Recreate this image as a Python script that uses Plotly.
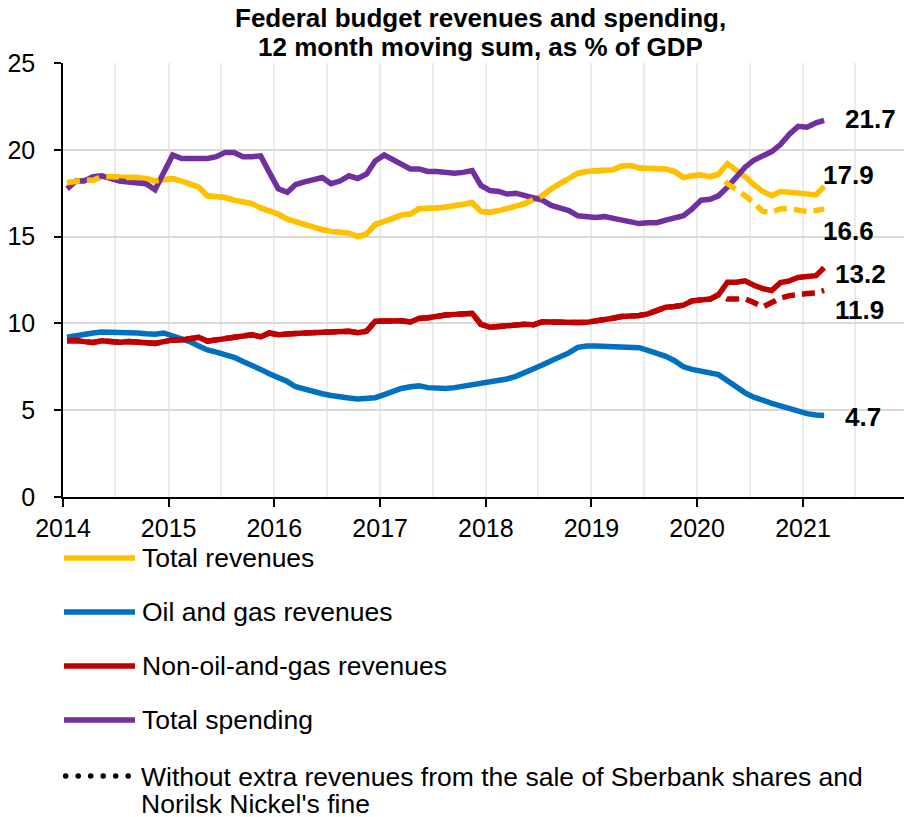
import pandas as pd
import plotly.graph_objects as go

# Monthly observations, Jan 2014 - Mar 2021 (plotted mid-month)
months = pd.date_range("2014-01-01", periods=87, freq="MS") + pd.Timedelta(days=14)

total_revenues = [
    18.1, 18.2, 18.25, 18.25, 18.45, 18.45, 18.4, 18.4, 18.4, 18.35, 18.2, 18.3,
    18.35, 18.2, 18.0, 17.85, 17.35, 17.3, 17.25, 17.1, 17.0, 16.9, 16.65, 16.5,
    16.3, 16.0, 15.85, 15.65, 15.5, 15.4, 15.3, 15.25, 15.2, 15.0, 15.15, 15.7,
    15.85, 16.05, 16.25, 16.3, 16.6, 16.6, 16.65, 16.7, 16.8, 16.9, 16.95, 16.45,
    16.4, 16.5, 16.6, 16.75, 16.9, 17.1, 17.35, 17.75, 18.05, 18.3, 18.65, 18.75,
    18.8, 18.8, 18.85, 19.05, 19.1, 18.95, 18.95, 18.95, 18.9, 18.75, 18.4, 18.5,
    18.55, 18.45, 18.6, 19.2, 18.85, 18.45, 18.0, 17.6, 17.35, 17.6, 17.55, 17.5,
    17.45, 17.4, 17.9,
]

oil_gas_revenues = [
    9.2, 9.3, 9.35, 9.45, 9.5, 9.5, 9.52, 9.5, 9.45, 9.4, 9.37, 9.45,
    9.3, 9.15, 8.95, 8.7, 8.47, 8.35, 8.2, 8.05, 7.8, 7.6, 7.35, 7.1,
    6.9, 6.65, 6.35, 6.2, 6.05, 5.95, 5.85, 5.75, 5.7, 5.64, 5.65, 5.72,
    5.9, 6.1, 6.25, 6.35, 6.4, 6.3, 6.25, 6.25, 6.3, 6.38, 6.48, 6.6,
    6.7, 6.75, 6.8, 6.95, 7.15, 7.35, 7.6, 7.85, 8.05, 8.3, 8.62, 8.7,
    8.7, 8.68, 8.68, 8.7, 8.68, 8.6, 8.45, 8.3, 8.1, 7.85, 7.5, 7.35,
    7.25, 7.15, 7.05, 6.7, 6.35, 6.0, 5.75, 5.55, 5.4, 5.25, 5.1, 4.9,
    4.8, 4.72, 4.7,
]

non_oil_gas_revenues = [
    9.0, 9.02, 8.95, 8.9, 9.0, 8.95, 8.92, 8.95, 8.93, 8.9, 8.85, 8.95,
    9.05, 9.05, 9.1, 9.2, 8.98, 9.05, 9.15, 9.2, 9.22, 9.35, 9.23, 9.45,
    9.35, 9.35, 9.42, 9.45, 9.47, 9.48, 9.5, 9.55, 9.55, 9.47, 9.55, 10.12,
    10.15, 10.15, 10.15, 10.08, 10.28, 10.32, 10.42, 10.48, 10.52, 10.56, 10.58, 9.95,
    9.78, 9.82, 9.87, 9.92, 9.95, 9.92, 10.1, 10.08, 10.05, 10.04, 10.05, 10.06,
    10.12, 10.18, 10.3, 10.4, 10.42, 10.46, 10.55, 10.75, 10.93, 10.97, 11.05, 11.3,
    11.33, 11.4, 11.65, 12.37, 12.37, 12.45, 12.2, 12.0, 11.9, 12.35, 12.45, 12.65,
    12.7, 12.75, 13.2,
]

total_spending = [
    17.75, 18.2, 18.2, 18.45, 18.5, 18.35, 18.2, 18.15, 18.1, 18.05, 17.7, 18.7,
    19.7, 19.5, 19.5, 19.5, 19.5, 19.6, 19.85, 19.85, 19.6, 19.6, 19.65, 18.7,
    17.75, 17.55, 18.0, 18.15, 18.3, 18.4, 18.05, 18.2, 18.5, 18.35, 18.6, 19.35,
    19.7, 19.45, 19.15, 18.9, 18.9, 18.75, 18.75, 18.7, 18.65, 18.7, 18.8, 17.95,
    17.65, 17.6, 17.45, 17.5, 17.35, 17.25, 17.1, 16.8, 16.65, 16.5, 16.2, 16.15,
    16.1, 16.15, 16.05, 16.0, 15.85, 15.75, 15.8, 15.8, 15.95, 16.1, 16.2, 16.6,
    17.1, 17.15, 17.35, 17.85, 18.45, 19.0, 19.4, 19.65, 19.9, 20.3, 20.9, 21.35,
    21.3, 21.55, 21.7,
]

# From Apr 2020: excluding the Sberbank share sale and Norilsk Nickel's fine
adjusted_from = 75
total_revenues_adj_tail = [18.05, 17.75, 17.35, 16.95, 16.45, 16.4, 16.6, 16.6, 16.55, 16.45, 16.5, 16.6]
non_oil_gas_adj_tail = [11.4, 11.4, 11.42, 11.2, 10.95, 11.2, 11.45, 11.6, 11.68, 11.72, 11.75, 11.9]
total_revenues_adj = total_revenues[:adjusted_from] + total_revenues_adj_tail
non_oil_gas_adj = non_oil_gas_revenues[:adjusted_from] + non_oil_gas_adj_tail

series_names = ["Total revenues", "Oil and gas revenues", "Non-oil-and-gas revenues", "Total spending"]
note_lines = ["Without extra revenues from the sale of Sberbank shares and", "Norilsk Nickel's fine"]
title_lines = ["Federal budget revenues and spending,", "12 month moving sum, as % of GDP"]

YELLOW, BLUE, RED, PURPLE = "#FFC000", "#0070C0", "#C00000", "#7030A0"
FONT = "Liberation Sans, Arial, sans-serif"
LW = 5.5
DASH = "13px,7px"

fig = go.Figure()
fig.add_trace(go.Scatter(x=months, y=total_revenues, mode="lines", name=series_names[0],
                         line=dict(color=YELLOW, width=LW)))
fig.add_trace(go.Scatter(x=months, y=oil_gas_revenues, mode="lines", name=series_names[1],
                         line=dict(color=BLUE, width=LW)))
fig.add_trace(go.Scatter(x=months, y=non_oil_gas_revenues, mode="lines", name=series_names[2],
                         line=dict(color=RED, width=LW)))
fig.add_trace(go.Scatter(x=months, y=total_spending, mode="lines", name=series_names[3],
                         line=dict(color=PURPLE, width=LW)))
fig.add_trace(go.Scatter(x=months, y=total_revenues_adj, mode="lines", showlegend=False,
                         line=dict(color=YELLOW, width=LW, dash=DASH)))
fig.add_trace(go.Scatter(x=months, y=non_oil_gas_adj, mode="lines", showlegend=False,
                         line=dict(color=RED, width=LW, dash=DASH)))

# End-of-series value labels: (series, x shift, y shift)
end_labels = [
    (total_spending, 19, 1),
    (total_revenues, -3, 11),
    (total_revenues_adj, -3, -22),
    (non_oil_gas_revenues, 9, -6),
    (non_oil_gas_adj, 9, -20),
    (oil_gas_revenues, 19, -2),
]
for values, dx, dy in end_labels:
    fig.add_annotation(x=months[-1], y=values[-1], xref="x", yref="y",
                       text=f"<b>{values[-1]:.1f}</b>", showarrow=False,
                       xanchor="left", yanchor="middle", xshift=dx, yshift=dy,
                       font=dict(family=FONT, size=26, color="black"))

# Plot-area geometry in pixels, used to lay out title and legend around the axes
PL, PT, PW, PH = 63, 63, 841, 434


def px(x):
    return (x - PL) / PW


def py(y):
    return (PT + PH - y) / PH


shapes = []
annotations = []

# Two-line bold title
for yc, line in zip([18, 47], title_lines):
    annotations.append(dict(xref="paper", yref="paper", x=px(480), y=py(yc),
                            text=f"<b>{line}</b>", showarrow=False,
                            xanchor="center", yanchor="middle",
                            font=dict(family=FONT, size=26, color="black")))

legend_rows = [558, 612, 666, 720]
LEG_FONT = 26.5
for name, color, row in zip(series_names, [YELLOW, BLUE, RED, PURPLE], legend_rows):
    shapes.append(dict(type="line", xref="paper", yref="paper",
                       x0=px(64), x1=px(135), y0=py(row), y1=py(row),
                       line=dict(color=color, width=LW)))
    annotations.append(dict(xref="paper", yref="paper", x=px(140), y=py(row),
                            text=name, showarrow=False, xanchor="left", yanchor="middle",
                            font=dict(family=FONT, size=LEG_FONT, color="black")))

note_row = 776
for cx in [65.7, 78.2, 90.7, 103.2, 115.7, 128.2]:
    shapes.append(dict(type="circle", xref="paper", yref="paper",
                       x0=px(cx - 2.8), x1=px(cx + 2.8), y0=py(note_row + 2.8), y1=py(note_row - 2.8),
                       fillcolor="black", line=dict(width=0)))
# Two tightly spaced note lines, each in a fixed-height box
for i, line in enumerate(note_lines):
    annotations.append(dict(xref="paper", yref="paper", x=px(140), y=py(note_row + 27 * i),
                            text=line, showarrow=False, xanchor="left", yanchor="middle",
                            height=27, valign="middle", borderpad=0,
                            font=dict(family=FONT, size=LEG_FONT, color="black")))

for a in annotations:
    fig.add_annotation(**a)

fig.update_layout(
    width=904, height=817,
    margin=dict(l=PL, r=904 - PL - PW, t=PT, b=817 - PT - PH),
    paper_bgcolor="white", plot_bgcolor="white",
    showlegend=False,
    shapes=shapes,
    font=dict(family=FONT, size=25, color="black"),
    xaxis=dict(
        type="date", range=["2014-01-01", "2021-12-16"],
        tick0="2014-01-01", dtick="M12", tickformat="%Y",
        ticks="outside", ticklen=8, tickwidth=1.5, tickcolor="black",
        showline=True, linecolor="black", linewidth=1.5,
        showgrid=True, gridcolor="#ebebeb", gridwidth=1.5,
        minor=dict(dtick="M6", tick0="2014-01-01", showgrid=True, gridcolor="#ebebeb", gridwidth=1.5),
        zeroline=False, tickfont=dict(size=25),
    ),
    yaxis=dict(
        range=[0, 25], dtick=5, tick0=0,
        ticks="outside", ticklen=7, tickwidth=1.5, tickcolor="black",
        showline=True, linecolor="black", linewidth=1.5,
        showgrid=True, gridcolor="#d9d9d9", gridwidth=1.5,
        zeroline=False, tickfont=dict(size=25), ticklabelstandoff=14,
    ),
)

fig.write_html("out.html")
